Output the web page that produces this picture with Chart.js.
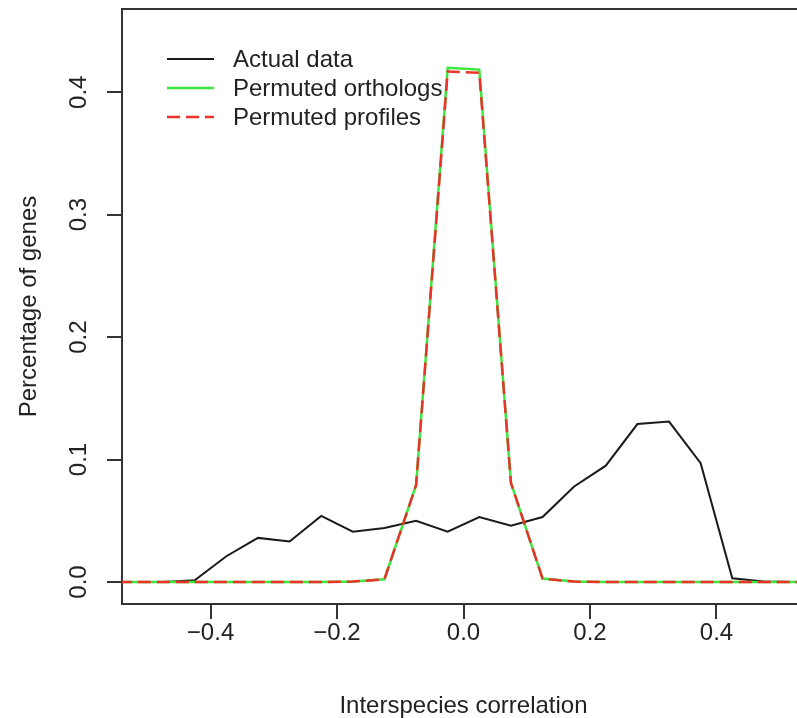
<!DOCTYPE html>
<html>
<head>
<meta charset="utf-8">
<script src="https://cdn.jsdelivr.net/npm/chart.js@4.4.0/dist/chart.umd.min.js"></script>
<style>
  html, body { margin: 0; padding: 0; background: #fff; overflow: hidden; }
  #wrap { width: 797px; height: 718px; overflow: hidden; }
  #chart { display: block; }
</style>
</head>
<body>
<div id="wrap"><canvas id="chart" width="805" height="718"></canvas></div>
<script>
// bin centres (interspecies correlation)
const corr = [-0.575, -0.525, -0.475, -0.425, -0.375, -0.325, -0.275, -0.225, -0.175, -0.125, -0.075, -0.025,
              0.025, 0.075, 0.125, 0.175, 0.225, 0.275, 0.325, 0.375, 0.425, 0.475, 0.525, 0.575];
const actual = [0, 0, 0, 0.0014, 0.021, 0.036, 0.033, 0.054, 0.041, 0.044, 0.050, 0.041,
                0.053, 0.046, 0.053, 0.078, 0.095, 0.129, 0.131, 0.097, 0.003, 0.0003, 0, 0];
const orthologs = [0, 0, 0, 0, 0, 0, 0, 0, 0.0003, 0.0022, 0.079, 0.420,
                   0.4185, 0.081, 0.0028, 0.0003, 0, 0, 0, 0, 0, 0, 0, 0];
const profiles = [0, 0, 0, 0, 0, 0, 0, 0, 0.0003, 0.0022, 0.079, 0.417,
                  0.416, 0.081, 0.0028, 0.0003, 0, 0, 0, 0, 0, 0, 0, 0];
const seriesNames = ['Actual data', 'Permuted orthologs', 'Permuted profiles'];
const xTicks = [-0.4, -0.2, 0.0, 0.2, 0.4];
const yTicks = [0.0, 0.1, 0.2, 0.3, 0.4];
const xTitle = 'Interspecies correlation';
const yTitle = 'Percentage of genes';

const FONT = '"Liberation Sans", Arial, sans-serif';
const TEXT = '#222';
const FRAME = '#333';
const colors = ['#1a1a1a', '#3ce83c', '#e8322a'];

const fmt = v => (v < 0 ? '\u2212' : '') + Math.abs(v).toFixed(1);
const points = arr => corr.map((x, i) => ({ x: x, y: arr[i] }));

// draws the pieces base R has and Chart.js doesn't: top frame, rotated y labels, titles, inset legend
const rDecor = {
    id: 'rDecor',
    afterDraw(chart) {
        const { ctx, chartArea: a, scales: { y } } = chart;
        ctx.save();
        ctx.strokeStyle = FRAME;
        ctx.lineWidth = 2;
        ctx.beginPath();
        ctx.moveTo(a.left, a.top);
        ctx.lineTo(a.right, a.top);
        ctx.lineTo(a.right, a.bottom);
        ctx.stroke();

        ctx.fillStyle = TEXT;
        ctx.font = '24px ' + FONT;
        ctx.textAlign = 'center';
        ctx.textBaseline = 'middle';
        y.ticks.forEach(t => {
            ctx.save();
            ctx.translate(79, y.getPixelForValue(t.value));
            ctx.rotate(-Math.PI / 2);
            ctx.fillText(fmt(t.value), 0, 0);
            ctx.restore();
        });

        ctx.save();
        ctx.translate(29, (a.top + a.bottom) / 2);
        ctx.rotate(-Math.PI / 2);
        ctx.fillText(yTitle, 0, 0);
        ctx.restore();

        ctx.fillText(xTitle, (a.left + a.right) / 2, 706);

        // legend
        ctx.textAlign = 'left';
        chart.data.datasets.forEach((ds, i) => {
            const ly = 59 + i * 29;
            ctx.strokeStyle = ds.borderColor;
            ctx.lineWidth = ds.borderWidth;
            ctx.setLineDash(ds.borderDash || []);
            ctx.beginPath();
            ctx.moveTo(167, ly);
            ctx.lineTo(214, ly);
            ctx.stroke();
            ctx.setLineDash([]);
            ctx.fillText(ds.label, 233, ly + 1);
        });
        ctx.restore();
    }
};

new Chart(document.getElementById('chart'), {
    type: 'line',
    data: {
        datasets: [
            { label: seriesNames[0], data: points(actual), borderColor: colors[0], borderWidth: 2, order: 2 },
            { label: seriesNames[1], data: points(orthologs), borderColor: colors[1], borderWidth: 2.5, order: 1 },
            { label: seriesNames[2], data: points(profiles), borderColor: colors[2], borderWidth: 2.5, borderDash: [13, 6], order: 0 }
        ]
    },
    options: {
        responsive: false,
        animation: false,
        devicePixelRatio: 1,
        layout: { padding: { top: 9, right: 0, left: 0, bottom: 0 } },
        elements: { point: { radius: 0 }, line: { tension: 0, fill: false } },
        plugins: { legend: { display: false }, tooltip: { enabled: false } },
        scales: {
            x: {
                type: 'linear',
                min: -0.54,
                max: 0.54,
                afterBuildTicks: s => { s.ticks = xTicks.map(v => ({ value: v })); },
                afterFit: s => { s.height = 114; },
                grid: { drawOnChartArea: false, drawTicks: true, tickLength: 15, color: FRAME, lineWidth: 2 },
                border: { display: true, color: FRAME, width: 2 },
                ticks: { callback: v => fmt(v), color: TEXT, font: { family: FONT, size: 24 }, padding: 0, maxRotation: 0 }
            },
            y: {
                type: 'linear',
                min: -0.018,
                max: 0.468,
                afterBuildTicks: s => { s.ticks = yTicks.map(v => ({ value: v })); },
                afterFit: s => { s.width = 122; },
                grid: { drawOnChartArea: false, drawTicks: true, tickLength: 15, color: FRAME, lineWidth: 2 },
                border: { display: true, color: FRAME, width: 2 },
                ticks: { display: false }
            }
        }
    },
    plugins: [rDecor]
});
</script>
</body>
</html>
